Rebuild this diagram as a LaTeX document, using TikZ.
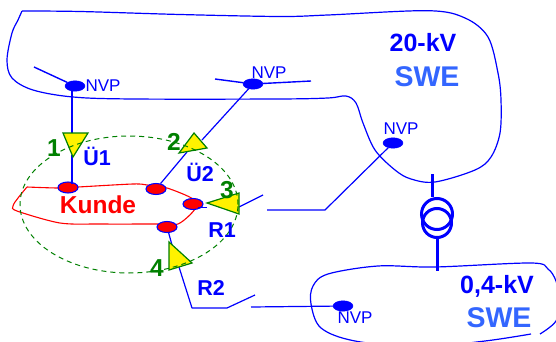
\documentclass[tikz,border=0pt]{standalone}
\usepackage{fontspec}
\setmainfont{Liberation Sans}
\usetikzlibrary{shapes.geometric}
\definecolor{swe}{HTML}{3366FF}
\definecolor{dgreen}{HTML}{008000}
\tikzset{
  net/.style={draw=blue,line width=1.2pt,line join=round},
  feeder/.style={net,line width=1.4pt},
  custline/.style={draw=red,line width=1.1pt},
  nvp/.style={ellipse,fill=blue,draw=blue,minimum width=20pt,minimum height=10.5pt,inner sep=0pt},
  cust/.style={ellipse,fill=red,draw=blue,line width=1.1pt,minimum width=20pt,minimum height=11pt,inner sep=0pt},
  tri/.style={fill=yellow,draw=dgreen,line width=1.2pt,line join=miter},
  txt/.style={anchor=base,inner sep=0pt},
  lblnvp/.style={txt,text=blue,font=\fontsize{17}{17}\selectfont},
  lblvolt/.style={txt,text=blue,font=\fontsize{25}{25}\selectfont\bfseries},
  lblswe/.style={txt,text=swe,font=\fontsize{28.5}{28.5}\selectfont\bfseries},
  lblname/.style={txt,text=blue,font=\fontsize{21.5}{21.5}\selectfont\bfseries},
  lblnum/.style={txt,text=dgreen,font=\fontsize{24.5}{24.5}\selectfont\bfseries},
  trafo/.style={draw=blue,line width=3pt},
}
\begin{document}
\begin{tikzpicture}[x=1pt,y=-1pt]
\useasboundingbox (0,0) rectangle (556,342);
\clip (0,0) rectangle (556,342);
% 20-kV loop
\draw[net] plot[smooth,tension=.55] coordinates {(22,11) (80,11.5) (180,14.5) (280,16.5) (328,15) (428,10.7) (465,18) (488,37) (498,73) (501,100) (500,133) (491,157) (475,170) (435,182) (411,179) (395,170) (375,150) (363,123) (356,103) (346,96) (328,98) (278,99) (133,99) (73,97) (33,90) (12,78) (7,60) (12,33) (18,20) (22,11)};
% 0,4-kV loop
\draw[net] plot[smooth,tension=.55] coordinates {(531,334) (485,341) (420,347) (355,341) (321,328) (311,304) (313,286) (328,274) (378,266) (435,267) (531,263) (548,269) (556,281) (560,300) (556,321) (540,334)};
% Kunde loop
\draw[custline] plot[smooth,tension=.5] coordinates {(27,187) (58,188) (78,187) (133,184) (147,185) (167,188) (193,199) (195,209) (178,224) (157,224) (100,224) (60,223) (17,211) (13,206) (18,198) (27,187)};
% nodes
\node[nvp] (n1) at (75,86) {};
\node[nvp] (n2) at (253,84) {};
\node[nvp] (n3) at (393,143) {};
\node[nvp] (n4) at (343,306) {};
\coordinate (b1) at (34,67);
\coordinate (b2) at (215,79);
\coordinate (b3) at (311,81);
\coordinate (j1) at (72,90);
\coordinate (j1b) at (72,184);
\coordinate (j3) at (198,207.5);
\coordinate (t1a) at (63,133); \coordinate (t1b) at (88,133); \coordinate (t1c) at (73,157); \coordinate (t1in) at (72,133); \coordinate (t1out) at (72,155);
\coordinate (t2a) at (194,133); \coordinate (t2b) at (207,148); \coordinate (t2c) at (179,153); \coordinate (t2in) at (202,140); \coordinate (t2out) at (187,152);
\coordinate (t3a) at (207,203); \coordinate (t3b) at (239,193); \coordinate (t3c) at (239,214); \coordinate (t3in) at (207,207.5); \coordinate (t3out) at (239,207);
\coordinate (t4a) at (169,242); \coordinate (t4b) at (192,263); \coordinate (t4c) at (169,270); \coordinate (t4in) at (172,245); \coordinate (t4out) at (179,267);
\coordinate (o3) at (263,195); \coordinate (i3) at (267,210); \coordinate (k3) at (325,210);
\coordinate (k4a) at (192,308); \coordinate (k4b) at (227,308); \coordinate (o4) at (255,295); \coordinate (i4) at (251,307);
\node[cust] (a) at (68,187.5) {};
\node[cust] (b) at (156,189) {};
\node[cust] (c) at (193,204) {};
\node[cust] (d) at (167,227) {};
% connectors
\draw[feeder] (b1) -- (n1);
\draw[feeder] (b2) -- (n2) -- (b3);
\draw[net] (j1) -- (t1in);
\draw[net] (t1out) -- (j1b);
\draw[net] (n2) -- (t2in);
\draw[net] (t2out) -- (b);
\draw[net] (j3) -- (t3in);
\draw[net] (t3out) -- (o3);
\draw[net] (i3) -- (k3) -- (n3);
\draw[net] (d) -- (t4in);
\draw[net] (t4out) -- (k4a) -- (k4b) -- (o4);
\draw[net] (i4) -- (n4);
% triangles
\draw[tri] (t1a) -- (t1b) -- (t1c) -- cycle;
\draw[tri] (t2a) -- (t2b) -- (t2c) -- cycle;
\draw[tri] (t3a) -- (t3b) -- (t3c) -- cycle;
\draw[tri] (t4a) -- (t4b) -- (t4c) -- cycle;
% service area
\node[ellipse,draw=dgreen,line width=1pt,dash pattern=on 5pt off 4pt,minimum width=218pt,minimum height=137pt,inner sep=0pt] (area) at (129,204.5) {};
% transformer
\node[circle,trafo,minimum size=31pt,inner sep=0pt] (tu) at (437,214) {};
\node[circle,trafo,minimum size=29pt,inner sep=0pt] (tl) at (437,223) {};
\coordinate (s1) at (432,174); \coordinate (s2) at (432,197);
\coordinate (s3) at (437,239); \coordinate (s4) at (437,271);
\draw[trafo] (s1) -- (s2);
\draw[trafo] (s3) -- (s4);
% labels
\node[lblnvp] (ln1) at (103,92) {NVP};
\node[lblnvp] (ln2) at (269,79) {NVP};
\node[lblnvp] (ln3) at (401,134) {NVP};
\node[lblnvp] (ln4) at (355,323) {NVP};
\node[lblvolt] (v1) at (423,52) {20-kV};
\node[lblswe] (s20) at (427,87) {SWE};
\node[lblvolt] (v2) at (497,293) {0,4-kV};
\node[lblswe] (s04) at (499,327) {SWE};
\node[txt,text=red,font=\fontsize{24.5}{24.5}\selectfont\bfseries] (kd) at (98,213) {Kunde};
\node[lblname] (u1) at (97,165) {Ü1};
\node[lblname] (u2) at (200,181) {Ü2};
\node[lblname] (r1) at (222,237) {R1};
\node[lblname] (r2) at (211,295) {R2};
\node[lblnum] (g1) at (54,156) {1};
\node[lblnum] (g2) at (174,150) {2};
\node[lblnum] (g3) at (227,198) {3};
\node[lblnum] (g4) at (157,276) {4};
\end{tikzpicture}
\end{document}
